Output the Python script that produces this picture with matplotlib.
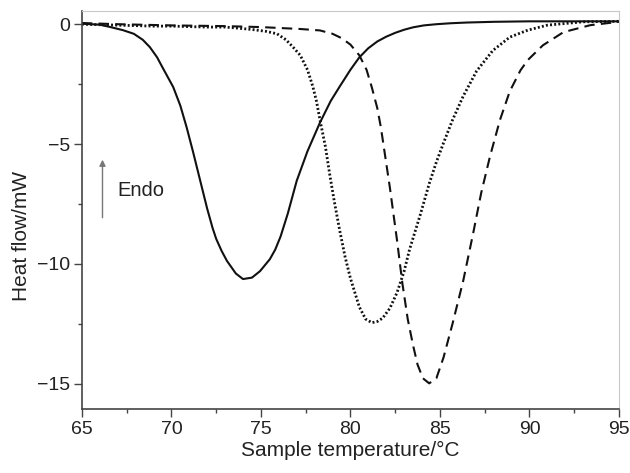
import numpy as np
import matplotlib.pyplot as plt

plt.rcParams['font.family'] = ['Liberation Sans', 'DejaVu Sans']

# solid curve
solid_t = [65.0, 66.0, 66.6, 67.3, 67.9, 68.4, 68.8, 69.2, 69.5, 70.1, 70.5, 70.85,
           71.2, 71.6, 72.0, 72.3, 72.5, 72.8, 73.1, 73.6, 74.0, 74.5, 74.95, 75.5,
           75.8, 76.1, 76.5, 77.0, 77.6, 78.3, 78.9, 79.4, 80.0, 80.5, 81.0, 81.5,
           82.0, 82.5, 83.0, 83.5, 84.1, 84.8, 85.6, 86.5, 88.0, 90.0, 92.0, 95.0]
solid_q = [0.02, -0.02, -0.12, -0.25, -0.4, -0.65, -0.96, -1.38, -1.8, -2.62, -3.4, -4.3,
           -5.3, -6.5, -7.7, -8.5, -8.95, -9.45, -9.87, -10.4, -10.63, -10.57, -10.3, -9.8,
           -9.4, -8.85, -7.9, -6.53, -5.3, -4.1, -3.2, -2.6, -1.9, -1.38, -1.0, -0.72,
           -0.52, -0.36, -0.23, -0.13, -0.05, 0.0, 0.04, 0.07, 0.1, 0.12, 0.12, 0.12]

# dotted curve
dot_t = [65.0, 66.0, 67.0, 68.0, 69.0, 70.0, 71.0, 72.0, 73.0, 73.5, 74.5, 75.3,
         75.9, 76.4, 76.8, 77.2, 77.6, 77.9, 78.1, 78.3, 78.6, 78.85, 79.1, 79.4,
         79.7, 80.0, 80.5, 80.85, 81.2, 81.5, 81.8, 82.2, 82.6, 83.0, 83.3, 83.9,
         84.4, 84.8, 85.2, 85.7, 86.3, 87.05, 87.95, 88.9, 89.9, 91.0, 93.0, 95.0]
dot_q = [0.0, -0.02, -0.04, -0.06, -0.08, -0.08, -0.1, -0.12, -0.12, -0.15, -0.22, -0.3,
         -0.4, -0.65, -0.96, -1.3, -1.9, -2.6, -3.2, -4.0, -5.1, -6.3, -7.4, -8.6,
         -9.7, -10.6, -11.8, -12.3, -12.45, -12.4, -12.26, -11.85, -11.2, -10.3, -9.4, -7.95,
         -6.65, -5.75, -4.95, -4.0, -3.0, -1.95, -1.1, -0.54, -0.25, -0.04, 0.1, 0.12]

# dashed curve
dash_t = [65.0, 67.0, 70.0, 73.0, 75.0, 77.2, 78.3, 79.0, 79.5, 80.0, 80.5, 80.9,
          81.2, 81.5, 81.7, 82.0, 82.2, 82.6, 82.9, 83.2, 83.5, 83.75, 84.05, 84.4,
          84.8, 85.2, 85.7, 86.3, 86.85, 87.3, 87.8, 88.35, 88.9, 89.5, 89.9, 90.75,
          91.9, 93.4, 95.0]
dash_q = [0.05, 0.0, -0.05, -0.08, -0.12, -0.2, -0.26, -0.4, -0.58, -0.85, -1.3, -1.9,
          -2.65, -3.5, -4.3, -5.8, -6.8, -9.0, -10.8, -12.3, -13.4, -14.2, -14.77, -14.98,
          -14.77, -13.9, -12.5, -10.7, -8.74, -7.05, -5.5, -4.0, -2.8, -1.92, -1.5, -0.88,
          -0.33, -0.04, 0.1]

fig = plt.figure(figsize=(6.3, 4.73), dpi=100)
ax = fig.add_axes([0.130, 0.1353, 0.8525, 0.8414])

ax.plot(solid_t, solid_q, color='#111111', lw=1.5, ls='-')
ax.plot(dot_t, dot_q, color='#111111', lw=2.0, ls=(0, (0.7, 0.8)))
ax.plot(dash_t, dash_q, color='#111111', lw=1.5, ls=(0, (5, 3)))

ax.set_xlim(65, 95)
ax.set_ylim(-16.05, 0.55)
ax.set_xticks([65, 70, 75, 80, 85, 90, 95])
ax.set_xticks(np.arange(67.5, 95, 5), minor=True)
ax.set_yticks([0, -5, -10, -15])
ax.set_yticks([-2.5, -7.5, -12.5], minor=True)

for s in ['left', 'bottom']:
    ax.spines[s].set_color('#444444')
    ax.spines[s].set_linewidth(1.2)
for s in ['top', 'right']:
    ax.spines[s].set_color('#c8c8c8')
    ax.spines[s].set_linewidth(0.8)

ax.tick_params(which='major', direction='out', length=5.5, width=1.0, color='#444444',
               labelsize=14, labelcolor='#222222', pad=3)
ax.tick_params(which='minor', direction='out', length=3, width=1.0, color='#444444')

ax.set_xlabel('Sample temperature/\u00b0C', fontsize=15, color='#222222', labelpad=2)
ax.set_ylabel('Heat flow/mW', fontsize=15, color='#222222')
ax.yaxis.set_label_coords(-0.095, 0.435)

# Endo arrow
ax.annotate('', xy=(66.15, -5.65), xytext=(66.15, -8.07),
            arrowprops=dict(arrowstyle='-|>', color='#777777', lw=1.0,
                            mutation_scale=9, shrinkA=0, shrinkB=0))
ax.text(67.0, -6.95, 'Endo', fontsize=14.5, color='#222222', ha='left', va='center')

fig.savefig('out.png', dpi=100)
